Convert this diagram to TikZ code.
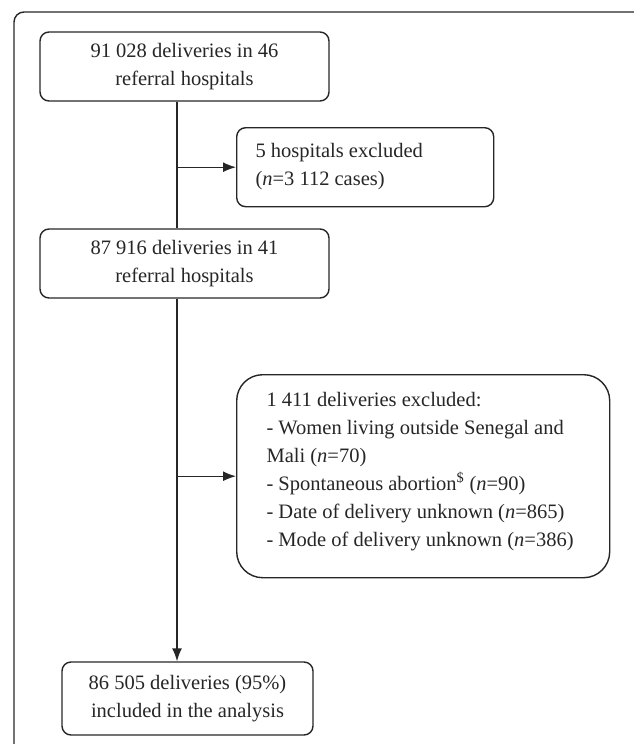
\documentclass[tikz,border=0pt]{standalone}
\usepackage{fontspec}
\setmainfont{Liberation Serif}
\usetikzlibrary{arrows.meta}
\begin{document}
\begin{tikzpicture}[x=1pt,y=1pt,
  every node/.style={font=\fontsize{20.5}{28}\selectfont, text=black!85},
  box/.style={draw=black!85, line width=1.4pt, rounded corners=9pt, inner sep=0pt},
  link/.style={draw=black!85, line width=1.4pt},
  arr/.style={link, -{Latex[length=13pt,width=10pt]}}]
\useasboundingbox (0,0) rectangle (633,-744);
\draw[link, rounded corners=10pt] (14,-760) -- (14,-12) -- (650,-12);
\node[box, minimum width=289pt, minimum height=69pt, align=center] (b1) at (184.5,-66.5)
  {91 028 deliveries in 46\\referral hospitals};
\node[box, minimum width=257pt, minimum height=79pt, anchor=north west] (b2) at (236,-127) {};
\node[anchor=west, align=left] (t2) at (252,-166.5) {5 hospitals excluded\\(\textit{n}=3 112 cases)};
\node[box, minimum width=289pt, minimum height=69pt, align=center] (b3) at (184.5,-263.5)
  {87 916 deliveries in 41\\referral hospitals};
\node[box, rounded corners=26pt, minimum width=373pt, minimum height=203pt, anchor=north west] (b4) at (236,-374) {};
\node[anchor=west, align=left] (t4) at (263,-471.5)
  {1 411 deliveries excluded:\\- Women living outside Senegal and\\Mali (\textit{n}=70)\\- Spontaneous abortion\textsuperscript{\$} (\textit{n}=90)\\- Date of delivery unknown (\textit{n}=865)\\- Mode of delivery unknown (\textit{n}=386)};
\node[box, minimum width=251pt, minimum height=73pt, align=center] (b5) at (187.5,-698.5)
  {86 505 deliveries (95\%)\\included in the analysis};
\coordinate (sp) at (177,0);
\draw[link] (b1.south -| sp) -- (b3.north -| sp);
\draw[arr] (sp |- b2.west) -- (b2.west);
\draw[arr] (b3.south -| sp) -- (b5.north -| sp);
\draw[arr] (sp |- b4.west) -- (b4.west);
\end{tikzpicture}
\end{document}
